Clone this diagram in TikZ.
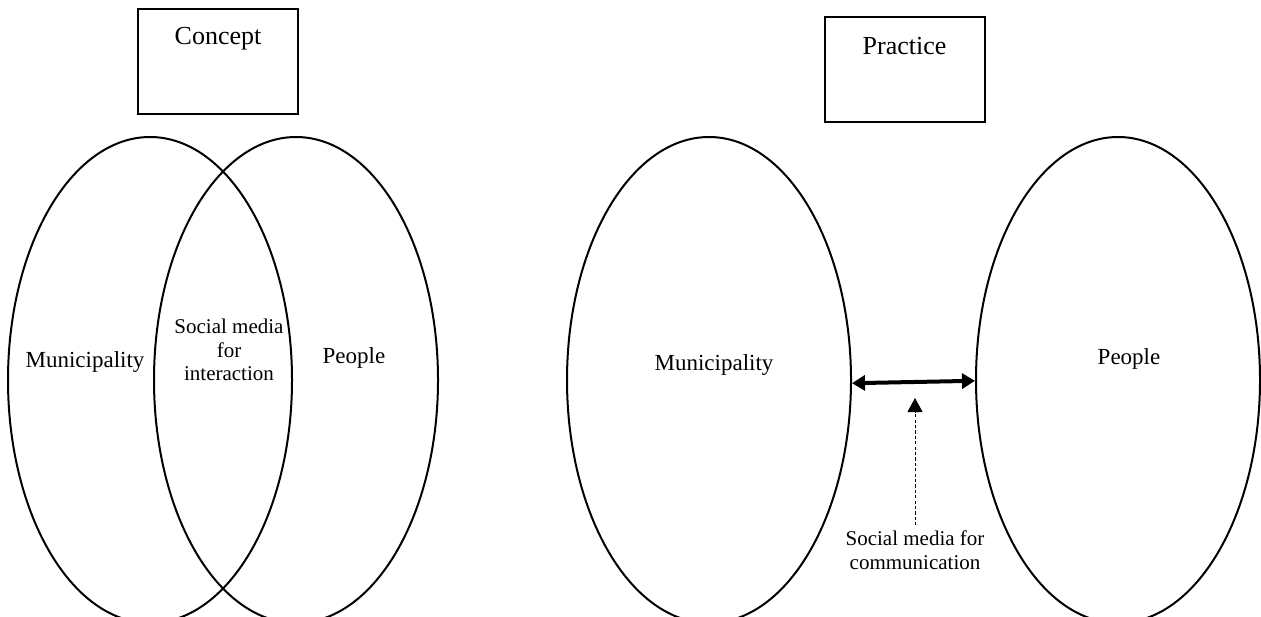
\documentclass[tikz,border=0pt]{standalone}
\usepackage{fontspec}
\setmainfont{Liberation Serif}
\usetikzlibrary{positioning,shapes.geometric,arrows.meta}
\tikzset{
  vnSet/.style={
    ellipse,
    draw=black,
    line width=1pt,
    minimum width=142pt,
    minimum height=243pt,
    inner sep=0pt
  },
  vnTitleBox/.style={
    draw=black,
    line width=1pt,
    minimum width=80pt,
    minimum height=52.5pt,
    inner sep=0pt
  },
  vnTitle/.style={
    font=\fontsize{13pt}{15pt}\selectfont,
    inner sep=0pt,
    anchor=base
  },
  vnLabel/.style={
    font=\fontsize{11.5pt}{13pt}\selectfont,
    inner sep=0pt,
    anchor=base
  },
  vnSmall/.style={
    font=\fontsize{10.5pt}{11.8pt}\selectfont,
    align=center,
    inner sep=0pt
  },
  vnArrowBoth/.style={
    line width=2pt,
    {Triangle[length=6.5pt,width=7.5pt]}-{Triangle[length=6.5pt,width=7.5pt]}
  },
  vnArrowDash/.style={
    line width=0.5pt,
    dash pattern=on 1.6pt off 1.1pt,
    -{Triangle[length=7pt,width=7.5pt]}
  }
}

\begin{document}
\begin{tikzpicture}[x=0.5pt,y=-0.5pt]
    \useasboundingbox (0,0) rectangle (1261,616);

    % Concept: overlapping sets
    \node (concept) [vnTitleBox] at (218,61.5) {};
    \node (conceptT) [vnTitle] at ([yshift=-18pt]concept.north) {Concept};

    \node (mun1) [vnSet] at (150,380) {};
    \node (peo1) [vnSet] at (296,380) {};

    \node (mun1T) [vnLabel] at (85,367.5) {Municipality};
    \node (peo1T) [vnLabel] at (354,363) {People};
    \node (inter) [vnSmall] at (229,350) {Social media\\for\\interaction};

    % Practice: separate sets
    \node (practice) [vnTitleBox] at (904.5,69.5) {};
    \node (practiceT) [vnTitle] at ([yshift=-19pt]practice.north) {Practice};

    \node (mun2) [vnSet] at (709,380) {};
    \node (peo2) [vnSet] at (1118,380) {};

    \node (mun2T) [vnLabel] at (714,370) {Municipality};
    \node (peo2T) [vnLabel] at (1129,364) {People};

    \draw [vnArrowBoth] ([yshift=-1.6pt]mun2.east) -- ([yshift=-0.4pt]peo2.west);

    % Label for the link
    \coordinate (dtip) at (915,398);
    \node (comm) [vnSmall, inner sep=2.5pt] at (915,550) {Social media for\\communication};
    \draw [vnArrowDash] (comm.north) -- (dtip);
  \end{tikzpicture}
\end{document}
